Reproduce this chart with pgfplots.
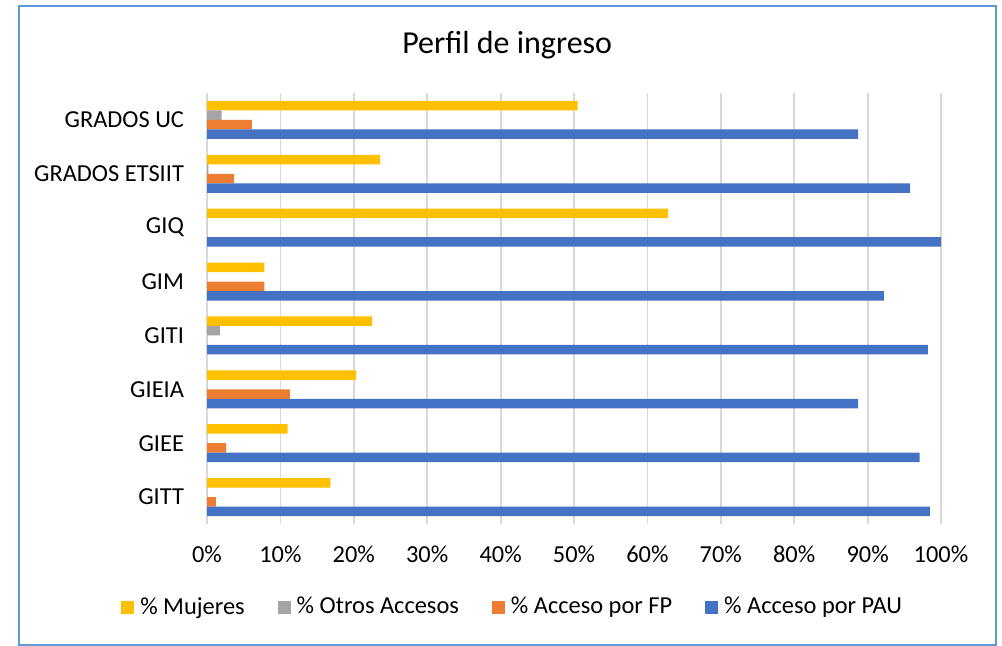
\documentclass[border=0pt]{standalone}
\usepackage{pgfplots}
\pgfplotsset{compat=1.18}
\usepackage{fontspec}
\setmainfont{Carlito}
\definecolor{cyel}{HTML}{FFC000}
\definecolor{cgray}{HTML}{A5A5A5}
\definecolor{corange}{HTML}{ED7D31}
\definecolor{cblue}{HTML}{4472C4}
\definecolor{cborder}{HTML}{5B9BD5}
\definecolor{cgrid}{HTML}{D9D9D9}
\begin{document}
\begin{tikzpicture}[x=1pt,y=1pt]
\path[use as bounding box] (0,0) rectangle (501,323);
\draw[cborder, line width=1.2pt] (9.5,0.6) rectangle (498,320);
\begin{axis}[
  at={(103.5pt,61pt)}, anchor=south west,
  scale only axis, width=367pt, height=215.5pt,
  xbar, bar width=0.176,
  xmin=0, xmax=100, ymin=-0.5, ymax=7.5,
  xtick={0,10,...,100},
  xticklabels={0\%,10\%,20\%,30\%,40\%,50\%,60\%,70\%,80\%,90\%,100\%},
  ytick={0,...,7},
  yticklabels={GITT,GIEE,GIEIA,GITI,GIM,GIQ,GRADOS ETSIIT,GRADOS UC},
  major tick length=0pt,
  xmajorgrids, grid style={cgrid, line width=0.9pt},
  axis line style={draw=none},
  tick label style={font=\fontsize{12.2}{14}\selectfont, text=black},
  xticklabel style={yshift=-7.5pt},
  yticklabel style={xshift=-8pt},
  every axis title shift=0pt,
  title={Perfil de ingreso},
  title style={font=\fontsize{16}{19}\selectfont, at={(axis description cs:0.409,1.111)}, anchor=center, yshift=0pt},
  legend columns=4,
  legend style={at={(axis description cs:0.417,-0.193)}, anchor=center, draw=none,
    font=\fontsize{12.2}{14}\selectfont,
    /tikz/every even column/.append style={column sep=15pt},
    /tikz/every odd column/.append style={column sep=1.5pt},
    nodes={inner sep=1.5pt}},
  legend image code/.code={\fill[#1] (0pt,-3.25pt) rectangle (6.5pt,3.25pt);},
]
\addplot[fill=cyel, draw=none, bar shift=0.264] coordinates {
(50.5,7) (23.6,6) (62.8,5) (7.8,4) (22.5,3) (20.3,2) (11.0,1) (16.8,0)};
\addplot[fill=cgray, draw=none, bar shift=0.088] coordinates {
(2.0,7) (0.2,6) (0,5) (0,4) (1.8,3) (0,2) (0,1) (0,0)};
\addplot[fill=corange, draw=none, bar shift=-0.088] coordinates {
(6.1,7) (3.7,6) (0,5) (7.8,4) (0,3) (11.3,2) (2.6,1) (1.2,0)};
\addplot[fill=cblue, draw=none, bar shift=-0.264] coordinates {
(88.7,7) (95.8,6) (100,5) (92.2,4) (98.2,3) (88.7,2) (97.1,1) (98.5,0)};
\legend{\% Mujeres,\% Otros Accesos,\% Acceso por FP,\% Acceso por PAU}
\end{axis}
\end{tikzpicture}
\end{document}
